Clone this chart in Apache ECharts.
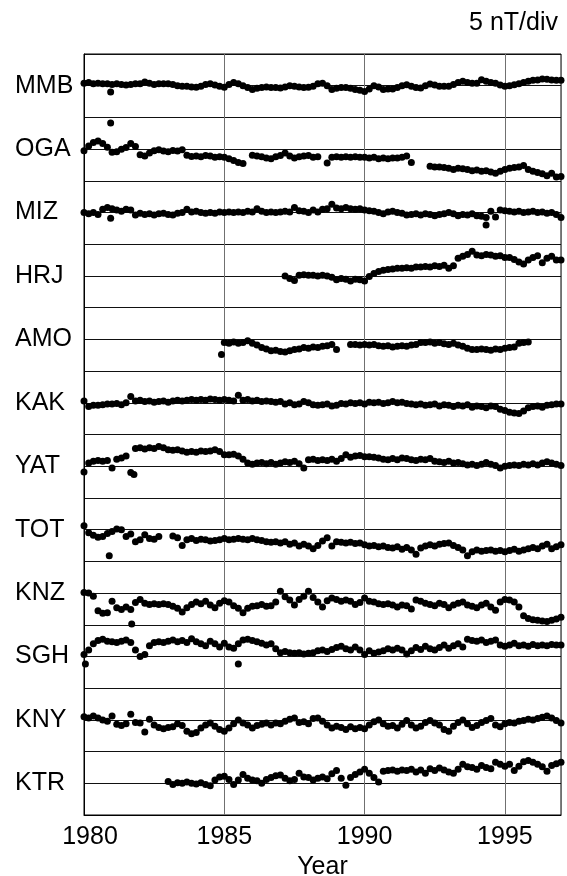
<!DOCTYPE html>
<html>
<head>
<meta charset="utf-8">
<script src="https://cdn.jsdelivr.net/npm/echarts@6/dist/echarts.min.js"></script>
<style>
  html, body { margin: 0; padding: 0; background: #fff; }
  #main { width: 567px; height: 876px; }
</style>
</head>
<body>
<div id="main"></div>
<script>
// station codes, top to bottom
var stations = ['MMB', 'OGA', 'MIZ', 'HRJ', 'AMO', 'KAK', 'YAT', 'TOT', 'KNZ', 'SGH', 'KNY', 'KTR'];
var xTicks = [1980, 1985, 1990, 1995];

// values in nT relative to each station's baseline, every 2 months from start year
var mmbStart = 1980;
var mmb = [
  0.4, 0.5, 0.3, 0.4, 0.3, 0.3,
  0.2, 0.3, 0.2, 0.1, 0.2, 0.3,
  0.3, 0.6, 0.4, 0.2, 0.3, 0.3,
  0.3, 0.2, 0.0, -0.1, -0.1, -0.2,
  -0.25, -0.1, 0.2, 0.3, 0.1, -0.1,
  -0.25, 0.2, 0.5, 0.3, 0.0, -0.3,
  -0.6, -0.4, -0.3, -0.2, -0.3, -0.3,
  -0.35, -0.2, 0.0, -0.1, -0.2, -0.3,
  -0.25, -0.1, 0.3, 0.4, 0.0, -0.6,
  -0.4, -0.3, -0.3, -0.4, -0.6, -0.7,
  -0.9, -0.5, 0.0, -0.2, -0.6, -0.5,
  -0.5, -0.3, 0.0, 0.15, -0.1, -0.3,
  -0.35, 0.0, 0.25, 0.1, -0.1, -0.1,
  -0.1, 0.2, 0.5, 0.7, 0.5, 0.4,
  0.4, 0.95, 0.7, 0.5, 0.4, 0.1,
  -0.1, 0.0, 0.15, 0.3, 0.5, 0.7,
  0.85, 0.9, 1.05, 1.0, 0.9, 0.85,
  0.85
];
var mmbOut = [[1980.95, -1.0]];

var ogaStart = 1980;
var oga = [
  -0.25, 0.5, 1.05, 1.3, 0.9, 0.3,
  -0.5, -0.4, 0.0, 0.25, 0.9, 0.4,
  -0.9, -1.1, -0.6, -0.25, -0.1, -0.3,
  -0.4, -0.2, -0.3, -0.1, -0.95, -1.15,
  -1.1, -1.2, -1.0, -1.1, -1.3, -1.2,
  -1.3, -1.5, -1.8, -2.1, -2.25, null,
  -0.95, -1.1, -1.2, -1.4, -1.5, -1.2,
  -1.0, -0.6, -1.1, -1.4, -1.2, -1.1,
  -1.0, -1.3, -1.2, null, -2.2, -1.3,
  -1.2, -1.3, -1.2, -1.3, -1.2, -1.3,
  -1.3, -1.4, -1.3, -1.5, -1.4, -1.5,
  -1.4, -1.4, -1.3, -1.1, -2.1, null,
  null, null, -2.7, -2.8, -2.8, -2.9,
  -3.0, -3.2, -3.0, -3.1, -3.2, -3.4,
  -3.3, -3.5, -3.4, -3.6, -3.8, -3.5,
  -3.2, -3.0, -2.9, -2.8, -2.6, -3.2,
  -3.5, -3.7, -3.9, -4.2, -3.8, -4.4,
  -4.3
];
var ogaOut = [[1980.95, 4.1]];

var mizStart = 1980;
var miz = [
  0.0, -0.2, 0.0, -0.3, 0.5, 0.8,
  0.6, 0.4, 0.2, 0.5, 0.4, -0.4,
  -0.1, -0.3, -0.2, -0.4, -0.2, -0.1,
  -0.3, -0.4, -0.1, 0.0, 0.5, 0.1,
  0.2, 0.0, -0.1, 0.0, -0.1, 0.1,
  0.0, 0.1, 0.0, 0.1, 0.0, 0.2,
  0.1, 0.6, 0.2, 0.0, 0.1, 0.0,
  0.1, 0.2, 0.1, 0.8, 0.3, 0.2,
  0.0, 0.4, 0.1, 0.5, 0.6, 1.3,
  0.7, 0.6, 0.8, 0.6, 0.5, 0.6,
  0.4, 0.3, 0.2, 0.0, -0.2, 0.1,
  0.2, 0.0, -0.1, -0.4, -0.3, -0.2,
  -0.4, -0.2, -0.3, -0.5, -0.3, -0.2,
  0.0, -0.2, -0.5, -0.3, -0.4, -0.2,
  -0.5, -0.6, -0.8, 0.2, -0.7, 0.4,
  0.3, 0.2, 0.1, 0.2, 0.0, 0.1,
  0.2, 0.0, 0.1, -0.1, 0.0, -0.3,
  -0.8
];
var mizOut = [[1980.95, -0.9], [1994.33, -1.95]];

var hrjStart = 1987 + 1 / 6;
var hrj = [
  0.0, -0.4, -0.7, 0.1, 0.2, 0.1,
  0.1, 0.0, 0.1, 0.0, -0.2, -0.6,
  -0.4, -0.5, -0.8, -0.5, -0.6, -0.8,
  -0.1, 0.4, 0.7, 0.9, 1.0, 1.1,
  1.2, 1.2, 1.3, 1.2, 1.4, 1.4,
  1.5, 1.4, 1.6, 1.5, 1.7, 1.2,
  1.6, 2.8, 3.1, 3.4, 3.9, 3.3,
  3.2, 3.4, 3.3, 3.1, 3.2, 2.9,
  2.9, 2.6, 2.2, 1.9, 2.5, 2.9,
  3.2, 2.1, 2.8, 3.1, 2.5, 2.5
];
var hrjOut = [];

var amoStart = 1985;
var amo = [
  -0.5, -0.6, -0.4, -0.6, -0.5, -0.2,
  -0.6, -0.9, -1.3, -1.5, -1.8, -1.7,
  -1.9, -2.0, -1.8, -1.6, -1.5, -1.3,
  -1.4, -1.2, -1.3, -1.1, -1.0, -0.8,
  -1.6, null, null, -0.8, -0.8, -0.9,
  -0.8, -0.9, -0.8, -1.0, -1.1, -1.0,
  -1.2, -1.1, -1.0, -1.1, -0.9, -0.8,
  -0.5, -0.5, -0.4, -0.6, -0.5, -0.7,
  -0.8, -0.6, -0.9, -1.1, -1.4, -1.6,
  -1.6, -1.5, -1.6, -1.7, -1.5, -1.6,
  -1.4, -1.3, -1.2, -0.6, -0.5, -0.4
];
var amoOut = [[1984.9, -2.4]];

var kakStart = 1980;
var kak = [
  0.3, -0.6, -0.4, -0.4, -0.3, -0.2,
  -0.2, -0.1, -0.3, 0.0, 1.0, 0.3,
  0.4, 0.2, 0.3, 0.1, 0.2, 0.3,
  0.1, 0.3, 0.4, 0.3, 0.4, 0.5,
  0.4, 0.5, 0.4, 0.6, 0.5, 0.4,
  0.5, 0.4, 0.3, 1.2, 0.4, 0.5,
  0.3, 0.4, 0.2, 0.3, 0.2, 0.1,
  0.2, -0.2, 0.0, -0.3, -0.2, 0.2,
  0.0, -0.3, -0.4, -0.3, -0.2, -0.5,
  -0.4, -0.1, -0.2, 0.0, -0.1, 0.0,
  -0.2, 0.1, 0.0, 0.1, -0.1, 0.0,
  0.2, 0.0, 0.1, -0.1, -0.2, -0.3,
  -0.2, -0.4, -0.3, -0.2, -0.5, -0.3,
  -0.4, -0.6, -0.4, -0.5, -0.3, -0.7,
  -0.5, -0.6, -0.8, -0.5, -0.6, -1.0,
  -1.2, -1.5, -1.6, -1.7, -1.3, -0.8,
  -0.6, -0.5, -0.7, -0.4, -0.3, -0.2,
  -0.2
];
var kakOut = [];

var yatStart = 1980;
var yat = [
  -0.9, 0.5, 0.8, 0.9, 0.8, 0.9,
  -0.3, 1.1, 1.3, 1.6, -1.0, 2.8,
  2.9, 2.7, 2.9, 2.8, 3.1, 2.9,
  2.6, 2.5, 2.6, 2.4, 2.2, 2.3,
  2.2, 2.4, 2.3, 2.4, 2.6, 2.3,
  1.8, 1.8, 1.9, 1.6, 1.1, 0.5,
  0.3, 0.5, 0.6, 0.4, 0.6, 0.3,
  0.5, 0.7, 0.6, 0.8, 0.4, -0.3,
  1.0, 1.1, 0.9, 1.0, 0.9, 1.1,
  0.8, 1.2, 1.8, 1.4, 1.6, 1.7,
  1.5, 1.5, 1.4, 1.3, 1.1, 1.0,
  1.2, 1.0, 1.3, 1.2, 1.0, 0.9,
  1.1, 1.0, 1.2, 0.8, 0.7, 0.6,
  0.8, 0.5, 0.6, 0.4, 0.2, 0.3,
  0.1, 0.3, 0.6, 0.3, 0.1, -0.3,
  0.0, 0.1, 0.2, 0.1, 0.3, 0.2,
  0.4, 0.2, 0.5, 0.7, 0.5, 0.3,
  0.1
];
var yatOut = [[1981.78, -1.3]];

var totStart = 1980;
var tot = [
  0.6, -0.5, -0.9, -1.2, -1.1, -0.6,
  -0.3, 0.1, 0.0, -1.1, -0.7, -1.9,
  -1.6, -0.8, -1.4, -1.5, -1.1, null,
  null, -1.0, -1.3, -2.5, -1.6, -1.4,
  -1.7, -1.5, -1.6, -1.8, -1.7, -1.6,
  -1.4, -1.6, -1.5, -1.4, -1.5, -1.6,
  -1.4, -1.6, -1.7, -1.9, -2.0, -1.9,
  -2.1, -1.9, -2.3, -2.1, -2.6, -2.3,
  -2.6, -3.0, -2.5, -1.8, -1.3, -2.6,
  -1.9, -2.0, -2.1, -2.0, -2.2, -2.1,
  -2.4, -2.6, -2.5, -2.7, -2.6, -2.8,
  -2.9, -2.7, -3.1, -2.8, -3.2, -3.9,
  -2.9, -2.6, -2.4, -2.6, -2.3, -2.2,
  -2.1, -2.5, -2.8, -3.2, -4.1, -3.5,
  -3.2, -3.4, -3.3, -3.2, -3.4, -3.3,
  -3.5, -3.3, -3.1, -3.4, -3.2, -3.0,
  -2.8, -3.0, -2.6, -2.3, -3.0, -2.7,
  -2.4
];
var totOut = [[1980.9, -4.1]];

var knzStart = 1980;
var knz = [
  0.1, 0.0, -0.5, -2.8, -3.2, -3.1,
  -1.3, -2.3, -2.6, -2.2, -2.6, -1.5,
  -1.0, -1.6, -1.8, -1.7, -1.8, -1.7,
  -1.8, -2.1, -2.4, -3.0, -2.3, -1.8,
  -1.4, -1.7, -1.3, -1.9, -2.3, -1.6,
  -1.2, -1.4, -2.0, -2.4, -3.1, -2.4,
  -2.1, -2.0, -1.8, -2.1, -2.0, -1.4,
  0.3, -0.6, -1.1, -1.9, -1.0, -0.5,
  0.3, -0.7, -1.4, -2.2, -1.2, -0.8,
  -1.0, -1.3, -1.1, -1.3, -1.8, -1.5,
  -0.8, -1.3, -1.4, -1.7, -1.8, -1.7,
  -1.9, -2.2, -1.9, -2.0, -2.5, -1.1,
  -1.3, -1.6, -1.8, -2.0, -1.6, -1.8,
  -2.3, -1.9, -1.6, -1.4, -1.9, -2.1,
  -2.3, -1.9, -1.6, -2.2, -2.7, -1.4,
  -1.0, -1.1, -1.4, -2.2, -3.6, -4.0,
  -4.2, -4.3, -4.4, -4.5, -4.3, -4.1,
  -3.8
];
var knzOut = [[1981.7, -4.9]];

var sghStart = 1980;
var sgh = [
  0.3, 1.0, 2.0, 2.5, 2.7, 2.4,
  2.3, 2.2, 2.4, 2.6, 2.2, 1.0,
  0.0, 0.3, 1.7, 2.2, 2.3, 2.2,
  2.4, 2.6, 2.3, 2.5, 2.2, 2.8,
  2.3, 2.0, 1.7, 2.4, 2.0, 1.5,
  2.1, 1.5, 1.3, 2.0, 2.6, 2.7,
  2.5, 2.3, 2.1, 1.8, 2.0, 1.2,
  0.6, 0.8, 0.6, 0.5, 0.6, 0.4,
  0.5, 0.6, 0.9, 1.0, 0.8, 1.1,
  1.4, 1.6, 1.2, 1.0, 1.5, 1.0,
  0.3, 0.9, 0.5, 0.7, 0.9, 1.2,
  1.0, 1.3, 1.0, 0.4, 0.9, 1.4,
  1.1, 1.6, 1.2, 1.0, 1.4, 1.8,
  1.3, 1.7, 2.0, 1.5, 2.7, 2.5,
  2.4, 2.6, 2.2, 2.4, 2.6, 1.8,
  1.6, 1.8, 2.1, 1.7, 1.8, 1.6,
  1.9, 1.7, 1.8, 1.7, 1.9, 1.8,
  1.8
];
var sghOut = [[1980.05, -1.2], [1985.5, -1.2]];

var knyStart = 1980;
var kny = [
  0.5, 0.3, 0.6, 0.3, 0.0, -0.2,
  0.6, -0.7, -0.9, -0.6, 0.9, -0.4,
  -0.5, -1.9, 0.1, -0.8, -1.2, -1.4,
  -1.2, -1.1, -0.6, -0.9, -1.8, -2.2,
  -2.0, -1.3, -0.8, -0.5, -1.0, -1.5,
  -1.8, -1.3, -0.6, 0.0, -0.5, -0.8,
  -1.3, -0.9, -0.7, -0.5, -0.8, -0.5,
  -0.6, -0.2, 0.1, 0.3, -0.4, -0.3,
  -0.6, 0.2, 0.3, -0.2, -0.8, -1.3,
  -1.0, -1.2, -1.5, -1.1, -1.4, -1.2,
  -1.4, -0.8, -0.3, 0.0, -0.6, -1.0,
  -0.9, -1.3, -0.7, -0.1, -0.8, -1.3,
  -1.0, -0.4, -0.1, -0.5, -0.8, -1.5,
  -1.8, -1.0, -0.4, 0.0, -0.6, -1.2,
  -0.9, -0.4, -0.1, 0.2, -0.8, -1.1,
  -0.6, -0.4, -0.5, -0.2, -0.1, 0.1,
  0.0, 0.2, 0.4, 0.6, 0.3, -0.1,
  -0.5
];
var knyOut = [];

var ktrStart = 1983;
var ktr = [
  0.3, -0.2, 0.1, 0.0, 0.2, 0.0,
  -0.1, 0.1, -0.2, -0.4, 0.5, 1.0,
  1.1, 0.6, -0.2, 0.5, 1.4, 0.8,
  0.5, 0.4, 0.0, 0.6, 0.9, 1.2,
  1.3, 0.8, 0.4, 0.6, 1.6, 1.0,
  0.9, 0.5, 0.8, 1.0, 0.7, 1.5,
  2.0, 0.8, -0.3, 0.9, 1.4, 1.8,
  2.2, 1.6, 0.9, 0.2, 1.9, 2.0,
  2.1, 1.9, 2.1, 2.0, 2.2, 1.8,
  2.1, 1.6, 2.3, 2.0, 2.4, 2.1,
  1.8, 1.6, 2.2, 3.0, 2.6, 2.5,
  2.2, 2.8, 2.5, 2.3, 3.3, 3.0,
  2.7, 3.0, 2.0, 2.7, 3.4, 3.6,
  3.3, 3.0, 2.6, 1.9, 2.8, 3.1,
  3.3
];
var ktrOut = [];

var starts = [mmbStart, ogaStart, mizStart, hrjStart, amoStart, kakStart, yatStart, totStart, knzStart, sghStart, knyStart, ktrStart];
var values = [mmb, oga, miz, hrj, amo, kak, yat, tot, knz, sgh, kny, ktr];
var outliers = [mmbOut, ogaOut, mizOut, hrjOut, amoOut, kakOut, yatOut, totOut, knzOut, sghOut, knyOut, ktrOut];

var FONT = "'Liberation Sans', Arial, Helvetica, sans-serif";
var YMAX = stations.length * 10;   // 10 nT band per station, 5 nT/div

function baseOf(k) { return YMAX - 5 - 10 * k; }

var series = stations.map(function (name, k) {
  var base = baseOf(k);
  var pts = [];
  values[k].forEach(function (v, i) {
    if (v !== null) pts.push([starts[k] + i / 6, base + v]);
  });
  outliers[k].forEach(function (p) { pts.push([p[0], base + p[1]]); });
  return {
    name: name,
    type: 'scatter',
    data: pts,
    symbol: 'circle',
    symbolSize: 7,
    itemStyle: { color: '#000', opacity: 1 },
    silent: true
  };
});

window.onload = function () {
  var myChart = echarts.init(document.getElementById('main'));
  var option = {
    animation: false,
    backgroundColor: '#fff',
    title: {
      text: '5 nT/div',
      right: 4,
      top: 6,
      textStyle: { fontFamily: FONT, fontSize: 25, fontWeight: 'normal', color: '#000' }
    },
    grid: {
      left: 84, right: 6, top: 54, bottom: 61,
      outerBoundsMode: 'none',
      show: true, borderColor: '#000', borderWidth: 1, backgroundColor: 'transparent'
    },
    xAxis: {
      type: 'value',
      min: 1980,
      max: 1997,
      interval: 5,
      name: 'Year',
      nameLocation: 'middle',
      nameGap: 35,
      nameTextStyle: { fontFamily: FONT, fontSize: 25, color: '#000' },
      axisLine: { show: true, lineStyle: { color: '#000', width: 1 } },
      axisTick: { show: false },
      axisLabel: {
        margin: 10,
        fontFamily: FONT, fontSize: 25, color: '#000',
        formatter: function (v) {
          if (v === xTicks[0]) return '{first|' + v + '}';
          return xTicks.indexOf(v) >= 0 ? String(v) : '';
        },
        rich: {
          first: { fontFamily: FONT, fontSize: 25, color: '#000', padding: [0, 0, 0, 12] }
        }
      },
      splitLine: { show: true, lineStyle: { color: '#707070', width: 1 } }
    },
    yAxis: {
      type: 'value',
      min: 0,
      max: YMAX,
      interval: 5,
      axisLine: { show: true, lineStyle: { color: '#000', width: 1 } },
      axisTick: { show: false },
      axisLabel: {
        interval: 0,
        align: 'left',
        margin: 69,
        padding: [6, 0, 0, 0],
        fontFamily: FONT, fontSize: 25, color: '#000',
        formatter: function (v) {
          var k = (YMAX - 5 - v) / 10;
          return (k >= 0 && k < stations.length && k === Math.round(k)) ? stations[k] : '';
        }
      },
      splitLine: { show: true, lineStyle: { color: '#111', width: 1 } }
    },
    series: series
  };
  myChart.setOption(option);
};
</script>
</body>
</html>
